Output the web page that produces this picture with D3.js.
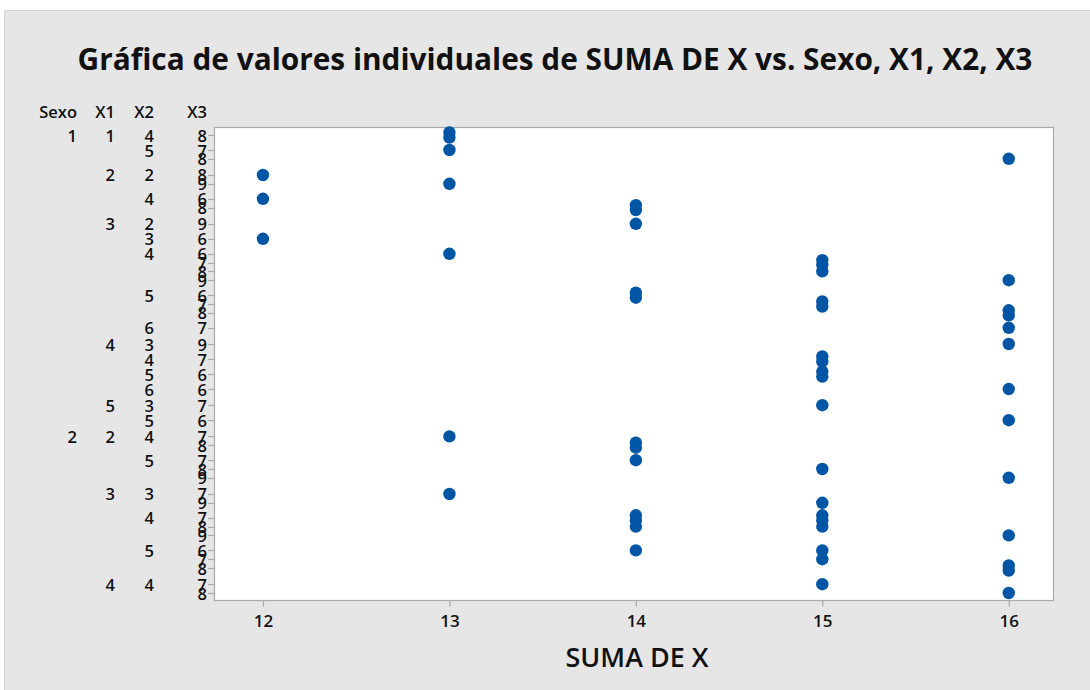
<!DOCTYPE html>
<html>
<head>
<meta charset="utf-8">
<script src="https://cdn.jsdelivr.net/npm/d3@7"></script>
<style>
  html, body { margin: 0; padding: 0; background: #ffffff; }
  svg { display: block; }
  text { font-family: "Open Sans", "Noto Sans", sans-serif; fill: #111; }
</style>
</head>
<body>
<svg id="chart" width="1090" height="690"></svg>
<script>
// Observations (grouped by Sexo/X1/X2/X3 combination)
const obsSexo = [
  1,1, 1, 1, 1, 1, 1, 1,1, 1, 1, 1, 1,1, 1, 1, 1,1, 1,1,1, 1, 1, 1, 1,1, 1,1, 1, 1, 1,
  2, 2,2, 2, 2, 2, 2, 2, 2,2,2,2, 2,2, 2, 2,2, 2, 2,2, 2, 2
];
const obsX1 = [
  1,1, 1, 1, 2, 2, 2, 2,2, 3, 3, 3, 3,3, 3, 3, 3,3, 3,3,3, 3, 3, 4, 4,4, 4,4, 4, 5, 5,
  2, 2,2, 2, 2, 2, 3, 3, 3,3,3,3, 3,3, 3, 3,3, 3, 3,3, 4, 4
];
const obsX2 = [
  4,4, 5, 5, 2, 2, 4, 4,4, 2, 3, 4, 4,4, 4, 4, 5,5, 5,5,5, 5, 6, 3, 4,4, 5,5, 6, 3, 5,
  4, 4,4, 5, 5, 5, 3, 3, 4,4,4,4, 4,4, 4, 5,5, 5, 5,5, 4, 4
];
const obsX3 = [
  8,8, 7, 8, 8, 9, 6, 8,8, 9, 6, 6, 7,7, 8, 9, 6,6, 7,7,8, 8, 7, 9, 7,7, 6,6, 6, 7, 6,
  7, 8,8, 7, 8, 9, 7, 9, 7,7,7,7, 8,8, 9, 6,6, 7, 8,8, 7, 8
];
const obsSuma = [
  13,13, 13, 16, 12, 13, 12, 14,14, 14, 12, 13, 15,15, 15, 16, 14,14, 15,15,16, 16, 16, 16, 15,15, 15,15, 16, 15, 16,
  13, 14,14, 14, 15, 16, 13, 15, 14,14,15,15, 14,15, 16, 14,15, 15, 16,16, 15, 16
];

const xTicks = [12, 13, 14, 15, 16];
const groupNames = ["Sexo", "X1", "X2", "X3"];
const titleText = "Gráfica de valores individuales de SUMA DE X vs. Sexo, X1, X2, X3";
const xTitle = "SUMA DE X";

const obs = obsSuma.map((v, i) => ({
  sexo: obsSexo[i], x1: obsX1[i], x2: obsX2[i], x3: obsX3[i], value: v
}));

// Unique category combinations, nested order Sexo > X1 > X2 > X3
const catKey = d => [d.sexo, d.x1, d.x2, d.x3].join("|");
const cats = Array.from(new Map(obs.map(d => [catKey(d), d])).values())
  .map(d => ({ sexo: d.sexo, x1: d.x1, x2: d.x2, x3: d.x3 }))
  .sort((a, b) => d3.ascending(a.sexo, b.sexo) || d3.ascending(a.x1, b.x1) ||
                  d3.ascending(a.x2, b.x2) || d3.ascending(a.x3, b.x3));

// Nested axis: wider gaps between outer groups
const gapX2 = 1.705, gapX1 = 1.84;
let slot = 0;
cats.forEach((c, i) => {
  if (i > 0) {
    const p = cats[i - 1];
    if (p.sexo !== c.sexo || p.x1 !== c.x1) slot += gapX1;
    else if (p.x2 !== c.x2) slot += gapX2;
    else slot += 1;
  }
  c.slot = slot;
});
const catIndex = new Map(cats.map((c, i) => [catKey(c), i]));

const svg = d3.select("#chart");
const W = 1090, H = 690;
const plot = { left: 214, right: 1053, top: 127, bottom: 600 };

// Background panel
svg.append("rect").attr("x", 0).attr("y", 0).attr("width", W).attr("height", H).attr("fill", "#ffffff");
svg.append("rect").attr("x", 4.5).attr("y", 10.5).attr("width", W - 4).attr("height", H - 10)
  .attr("fill", "#e6e6e6").attr("stroke", "#d4d4d4");

const x = d3.scaleLinear().domain([11.74, 16.24]).range([plot.left, plot.right]);
const y = d3.scaleLinear().domain([0, slot]).range([135, 593]);

svg.append("rect")
  .attr("x", plot.left + 0.5).attr("y", plot.top + 0.5)
  .attr("width", plot.right - plot.left).attr("height", plot.bottom - plot.top)
  .attr("fill", "#ffffff").attr("stroke", "#a8a8a8").attr("stroke-width", 1.2);

// X axis
const xAxis = d3.axisBottom(x).tickValues(xTicks).tickSize(6).tickSizeOuter(0).tickFormat(d3.format("d"));
const gx = svg.append("g").attr("transform", `translate(0.5,${plot.bottom + 0.5})`).call(xAxis);
gx.select(".domain").remove();
gx.selectAll(".tick line").attr("stroke", "#a8a8a8").attr("stroke-width", 1.2);
gx.selectAll(".tick text").attr("dy", null).attr("y", 20).attr("dominant-baseline", "central")
  .style("font-size", "17px").style("font-weight", 600).attr("fill", "#111");

// Y axis ticks (one per category)
svg.append("g").selectAll("line").data(cats).join("line")
  .attr("x1", plot.left - 6).attr("x2", plot.left)
  .attr("y1", d => Math.round(y(d.slot)) + 0.5).attr("y2", d => Math.round(y(d.slot)) + 0.5)
  .attr("stroke", "#a8a8a8").attr("stroke-width", 1.2);

// Nested category labels, right-aligned columns
const colRight = [77, 115, 154, 207];
const labelFont = "16.5px";
svg.append("g").selectAll("text").data(groupNames).join("text")
  .attr("x", (d, i) => colRight[i]).attr("y", 111)
  .attr("text-anchor", "end").attr("dominant-baseline", "central")
  .style("font-size", labelFont).style("font-weight", 600).text(d => d);

const fields = ["sexo", "x1", "x2", "x3"];
const labelRows = [];
cats.forEach((c, i) => {
  const p = i > 0 ? cats[i - 1] : null;
  fields.forEach((f, k) => {
    // Show an outer label only where its group begins
    const starts = !p || fields.slice(0, k + 1).some(g => p[g] !== c[g]);
    if (starts || k === 3) labelRows.push({ col: k, text: c[f], slot: c.slot });
  });
});
svg.append("g").selectAll("text").data(labelRows).join("text")
  .attr("x", d => colRight[d.col]).attr("y", d => y(d.slot))
  .attr("text-anchor", "end").attr("dominant-baseline", "central")
  .style("font-size", labelFont).style("font-weight", 600).text(d => d.text);

// Points: coincident observations are spread slightly along the category axis
const groups = d3.group(obs, d => catKey(d) + "#" + d.value);
const pts = [];
groups.forEach(arr => {
  arr.forEach((d, j) => pts.push({ ...d, spread: (j - (arr.length - 1) / 2) * 5 }));
});
svg.append("g").selectAll("circle").data(pts).join("circle")
  .attr("cx", d => x(d.value) + 0.5)
  .attr("cy", d => y(cats[catIndex.get(catKey(d))].slot) + d.spread)
  .attr("r", 6.2)
  .attr("fill", "#0055a5");

// Titles
const title = svg.append("text").attr("x", 555).attr("y", 58)
  .attr("text-anchor", "middle").attr("dominant-baseline", "central")
  .style("font-size", "27px").style("font-weight", 700).text(titleText);
const tw = title.node().getComputedTextLength();
title.style("font-size", (27 * 955 / tw).toFixed(2) + "px");

const xt = svg.append("text").attr("x", 637).attr("y", 656)
  .attr("text-anchor", "middle").attr("dominant-baseline", "central")
  .style("font-size", "22px").style("font-weight", 600).text(xTitle);
const xw = xt.node().getComputedTextLength();
xt.style("font-size", (22 * 143 / xw).toFixed(2) + "px");
</script>
</body>
</html>
